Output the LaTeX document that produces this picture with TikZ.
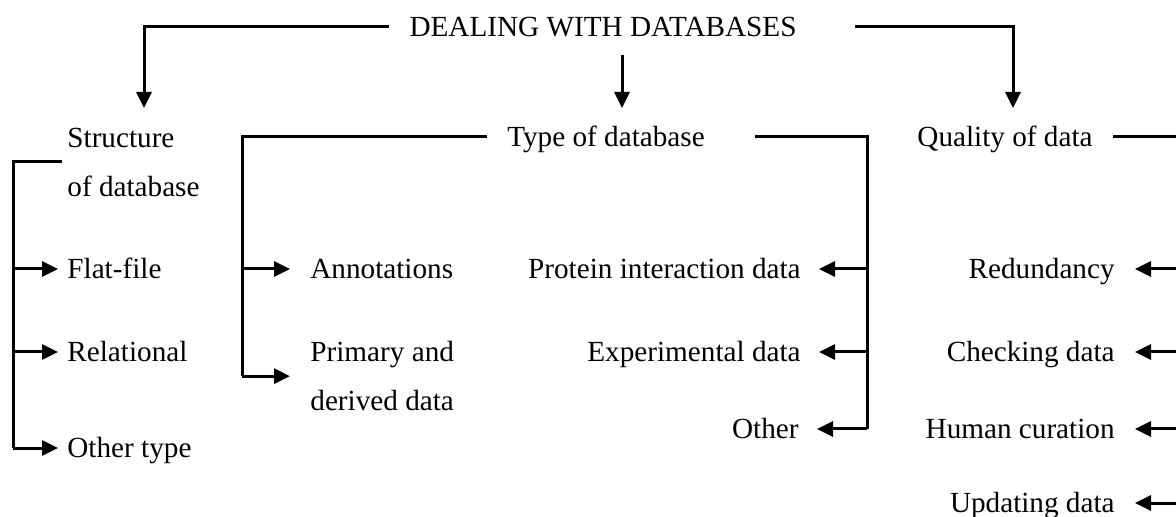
\documentclass[tikz,border=0pt]{standalone}
\usepackage{fontspec}
\setmainfont{Liberation Serif}
\usetikzlibrary{positioning, arrows.meta, calc}

\begin{document}
\begin{tikzpicture}[
    x=0.5pt, y=-0.5pt,
    >={Triangle[length=8pt, width=7.5pt]},
    every node/.style={font=\fontsize{14.6}{17}\selectfont, inner sep=0pt},
    head/.style={text height=9.6pt, text depth=0pt},
    item/.style={text height=9.6pt, text depth=0pt},
    twoline/.style={align=left, font=\fontsize{14.6}{24.5}\selectfont},
    link/.style={line width=1.5pt, draw=black},
    branch/.style={link, ->},
]

% frame
\useasboundingbox (0,0) rectangle (1176,517);
\clip (0,0) rectangle (1176,517);

% Headings
\node[head] (title)   at (603,27)  {DEALING WITH DATABASES};
\node[head] (type)    at (606,137) {Type of database};
\node[head] (quality) at (1005,137) {Quality of data};
\node[twoline, anchor=north west] (struct) at (67,128) {Structure\\of database};

% Structure branch
\node[item, anchor=west] (flat)  at (67,269) {Flat-file};
\node[item, anchor=west] (rel)   at (67,352) {Relational};
\node[item, anchor=west] (otype) at (67,448) {Other type};

% Type of database, left side
\node[item, anchor=west] (annot) at (310,269) {Annotations};
\node[twoline, anchor=north west] (prim) at (310,341) {Primary and\\derived data};

% Type of database, right side
\node[item, anchor=east] (prot)  at (801,269) {Protein interaction data};
\node[item, anchor=east] (expe)  at (801,352) {Experimental data};
\node[item, anchor=east] (other) at (799,429) {Other};

% Quality of data
\node[item, anchor=east] (redun) at (1115,269) {Redundancy};
\node[item, anchor=east] (check) at (1115,352) {Checking data};
\node[item, anchor=east] (human) at (1115,429) {Human curation};
\node[item, anchor=east] (updat) at (1115,503) {Updating data};

% Corner points
\coordinate (tl) at (144,108);
\coordinate (tm) at (622,108);
\coordinate (tr) at (1013,108);
\coordinate (sb) at (13,162);
\coordinate (tyl) at (242,137);
\coordinate (tyr) at (867,137);
\coordinate (ql) at (1190,137);

% Top level
\draw[branch] ([xshift=-10pt]title.west) -| (tl);
\draw[branch] ([xshift=29pt]title.east) -| (tr);
\draw[branch] (tm |- 0,55) -- (tm);

% Structure of database
\draw[link] ([xshift=-2.5pt]struct.west |- sb) -- (sb) -- (sb |- otype);
\foreach \n in {flat, rel, otype}
  \draw[branch, shorten >=4.5pt] (sb |- \n) -- (\n.west);

% Type of database
\draw[link] ([xshift=-10pt]type.west) -- (tyl) -- (tyl |- prim);
\foreach \n in {annot, prim}
  \draw[branch, shorten >=10pt] (tyl |- \n) -- (\n.west);
\draw[link] ([xshift=25pt]type.east) -- (tyr) -- (tyr |- other);
\foreach \n in {prot, expe, other}
  \draw[branch, shorten >=9pt] (tyr |- \n) -- (\n.east);

% Quality of data
\draw[link] ([xshift=10pt]quality.east) -- (ql) -- (ql |- updat);
\foreach \n in {redun, check, human, updat}
  \draw[branch, shorten >=10pt] (ql |- \n) -- (\n.east);

\end{tikzpicture}
\end{document}
